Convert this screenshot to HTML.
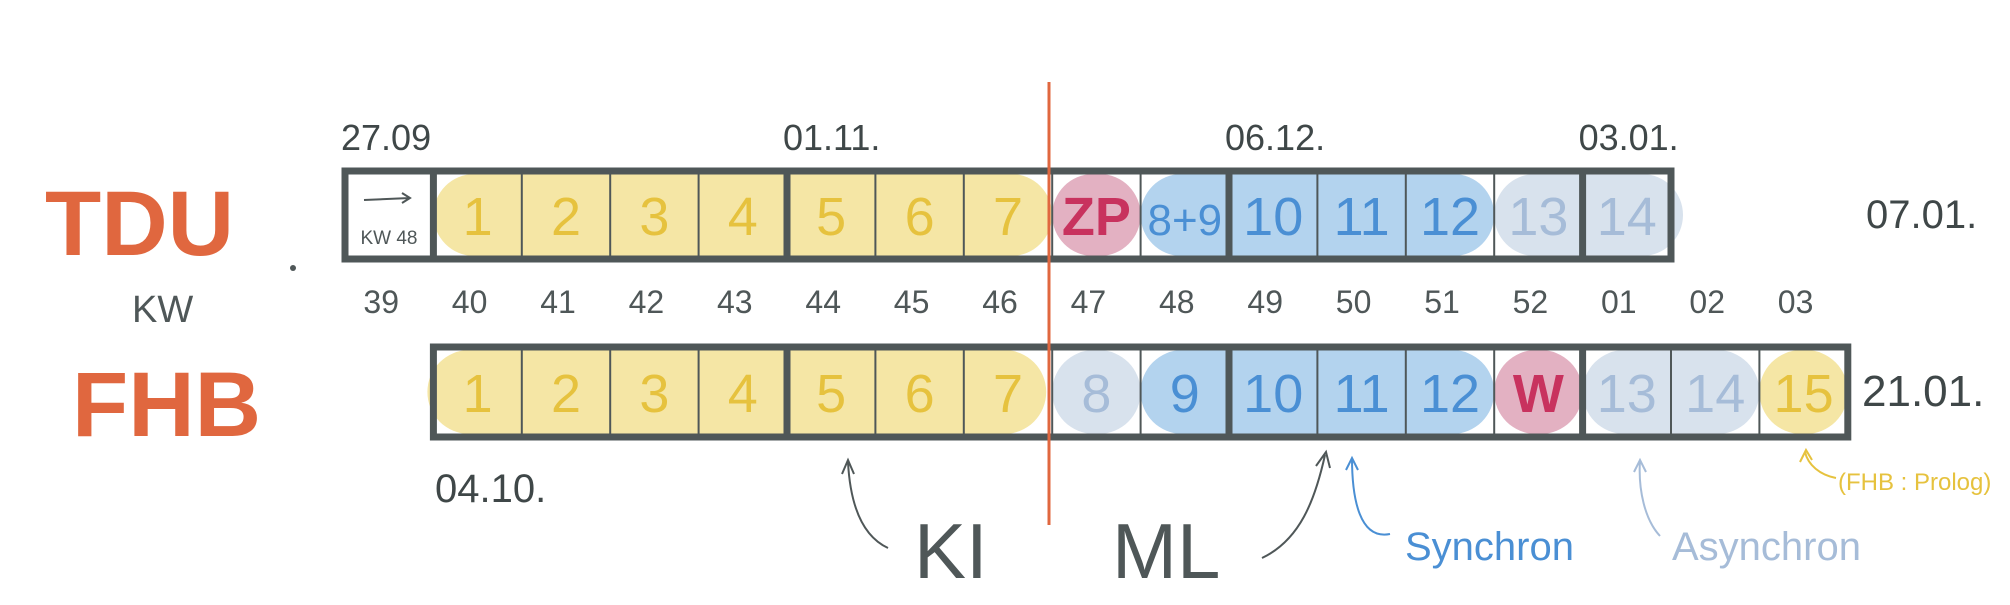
<!DOCTYPE html>
<html><head><meta charset="utf-8"><style>
html,body{margin:0;padding:0;background:#fff;}
svg{display:block;font-family:"Liberation Sans",sans-serif;}
</style></head><body>
<svg id="c" width="2010" height="605" viewBox="0 0 2010 605"></svg>
<script>
const kwLabels=["39","40","41","42","43","44","45","46","47","48","49","50","51","52","01","02","03"];
const tduLabels=["","1","2","3","4","5","6","7","ZP","8+9","10","11","12","13","14"];
const tduTypes=["none","ki","ki","ki","ki","ki","ki","ki","exam","sync","sync","sync","sync","async","async"];
const fhbLabels=["1","2","3","4","5","6","7","8","9","10","11","12","W","13","14","15"];
const fhbTypes=["ki","ki","ki","ki","ki","ki","ki","async","sync","sync","sync","sync","exam","async","async","ki"];
const tduThick=[1,5,10,14];
const fhbThick=[5,10,14];
const dateLabels=["27.09","01.11.","06.12.","03.01."];
const dateCells=[0,5,10,14];

const NS="http://www.w3.org/2000/svg";
const svg=document.getElementById('c');
const X0=345,CW=88.4;
const cx=k=>X0+CW*k;
const fill={ki:"#f5e6a5",exam:"#e3b1c2",sync:"#b3d3ee",async:"#d8e2ed"};
const ink={ki:"#e6c23e",exam:"#c8325e",sync:"#4a8fd4",async:"#a6bcd8"};
function el(t,a,txt){const e=document.createElementNS(NS,t);for(const k in a)e.setAttribute(k,a[k]);if(txt!==undefined)e.textContent=txt;svg.appendChild(e);return e;}

function row(labels,types,start,top,h,thick,name){
  const n=labels.length;
  // group backgrounds
  let i=0;
  while(i<n){
    const t=types[i];let j=i;while(j+1<n&&types[j+1]===t&&t!=="exam")j++;
    if(t!=="none"){
      const r=el('rect',{x:cx(start+i)-(i===0&&name==='fhb'?6:0),y:top,width:cx(start+j+1)-cx(start+i)+(t==='async'&&j===n-1&&name==='tdu'?12:0),height:h,rx:h/2,fill:fill[t]});
      
      
    }
    i=j+1;
  }
  for(let k=0;k<n;k++){
    const t=types[k];
    if(t==="none")continue;
    const tx=el('text',{x:cx(start+k)+CW/2,y:top+h/2+20,'text-anchor':'middle','font-size':labels[k].length>2?44:54,fill:ink[t],'font-weight':t==='exam'?'bold':'normal'},labels[k]);
    
    
  }
  // frame
  const x1=cx(start),x2=cx(start+n);
  const f=el('rect',{x:x1,y:top-3,width:x2-x1,height:h+6,fill:'none',stroke:'#4f5758','stroke-width':7});
  
  
  for(let k=1;k<n;k++){
    const th=thick.includes(start+k);
    const l=el('line',{x1:cx(start+k),x2:cx(start+k),y1:top,y2:top+h,stroke:'#4f5758','stroke-width':th?7:2});
    
    
  }
}
row(tduLabels,tduTypes,0,174,82,tduThick,'tdu');
row(fhbLabels,fhbTypes,1,350,84,fhbThick,'fhb');
// kw48 note
let t=el('text',{x:cx(0)+44,y:244,'text-anchor':'middle','font-size':19,fill:'#4f5758'},'KW 48');

let a=el('path',{d:'M 364 200 L 410 198 M 402 193 L 410 198 L 402 203',stroke:'#4f5758','stroke-width':2,fill:'none'});

// kw labels
kwLabels.forEach((s,k)=>{const e=el('text',{x:cx(k)+CW/2-8,y:313,'text-anchor':'middle','font-size':32,fill:'#4f5758'},s);
});
dateLabels.forEach((s,k)=>{const e=el('text',{x:cx(dateCells[k])-4,y:150,'font-size':36,fill:'#3f4748'},s);
});
function txt(s,x,y,sz,c,nm,w){const e=el('text',{x:x,y:y,'font-size':sz,fill:c,'font-weight':w||'normal'},s);return e;}
txt('07.01.',1866,228,40,'#3f4748','tdu-end-date');
txt('21.01.',1862,406,44,'#3f4748','fhb-end-date');
txt('04.10.',435,502,40,'#3f4748','fhb-start-date');
txt('TDU',45,255,92,'#e0673f','tdu-label','bold');
txt('FHB',72,436,92,'#e0673f','fhb-label','bold');
txt('KW',132,322,38,'#4f5758','kw-label');
txt('KI',914,578,78,'#4f5758','ki-label');
txt('ML',1112,578,78,'#4f5758','ml-label');
txt('Synchron',1405,560,40,'#4a8fd4','synchron-label');
txt('Asynchron',1672,560,40,'#a6bcd8','asynchron-label');
txt('(FHB : Prolog)',1838,490,24,'#e6c23e','prolog-note');
let red=el('line',{x1:1049,x2:1049,y1:82,y2:525,stroke:'#e0673f','stroke-width':3});

el('circle',{cx:293,cy:268,r:3,fill:'#4f5758'});
const arrows=[
 ['M 888 548 C 860 535 850 500 848 462 M 842 474 L 848 460 L 854 474','#4f5758','ki-arrow'],
 ['M 1262 558 C 1300 540 1315 500 1325 455 M 1316 466 L 1326 452 L 1330 468','#4f5758','ml-arrow'],
 ['M 1390 534 C 1360 540 1352 500 1352 458 M 1346 470 L 1352 458 L 1358 470','#4a8fd4','synchron-arrow'],
 ['M 1660 536 C 1645 520 1638 490 1640 460 M 1634 472 L 1640 460 L 1646 472','#a6bcd8','asynchron-arrow'],
 ['M 1836 478 C 1820 475 1808 465 1805 452 M 1800 462 L 1806 450 L 1812 460','#e6c23e','prolog-arrow']
];
arrows.forEach(p=>{const e=el('path',{d:p[0],stroke:p[1],'stroke-width':2,fill:'none'});
});
</script>
</body></html>
